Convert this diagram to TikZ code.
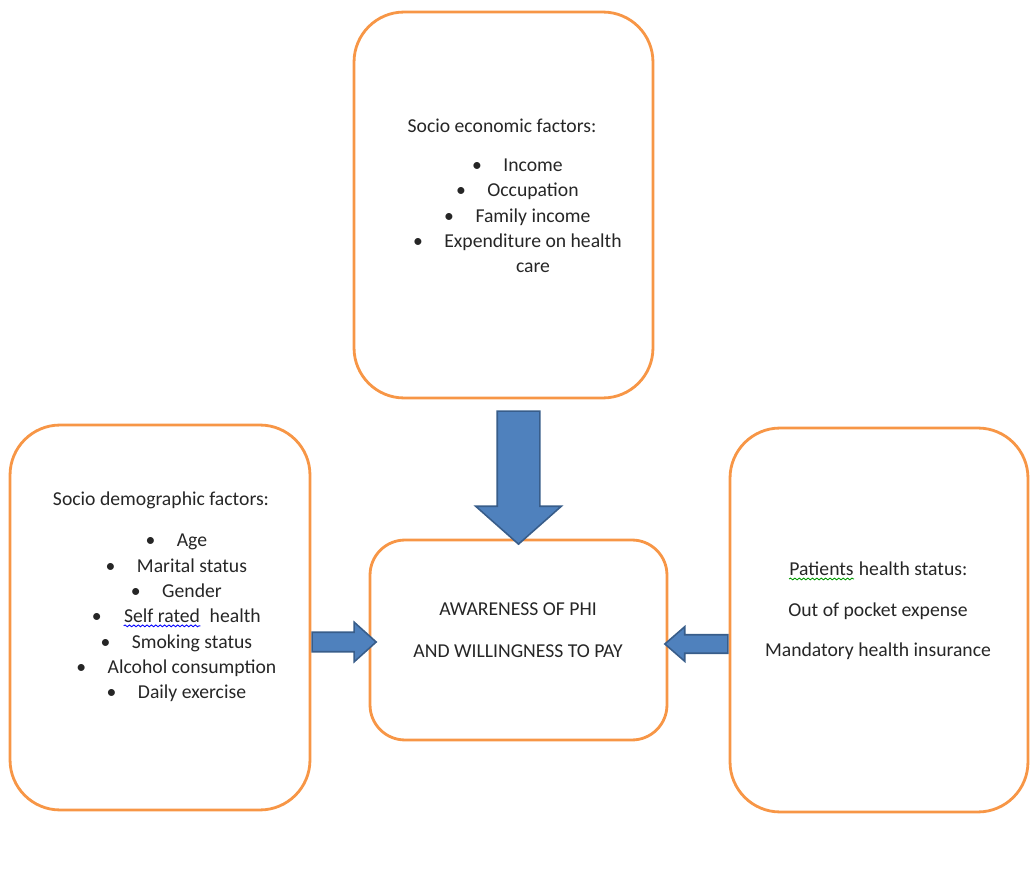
\documentclass[tikz,border=0pt]{standalone}
\usepackage{fontspec}
\setmainfont{Carlito}
\usetikzlibrary{shapes.arrows,decorations.pathmorphing,calc}

\definecolor{boxorange}{HTML}{F79646}
\definecolor{arrowblue}{HTML}{4F81BD}
\definecolor{arrowedge}{HTML}{385D8A}
\definecolor{txtgray}{HTML}{262626}

\newcommand{\itm}[1]{\makebox[0pt][r]{\textbullet\hspace{0.43cm}}#1}
\newcommand{\wavy}[2]{\tikz[baseline=(w.base)]{\node[inner sep=0pt] (w) {#2};
  \draw[#1, line width=.5pt, decorate, decoration={snake, amplitude=.5pt, segment length=2.5pt}]
  ([yshift=-1.5pt]w.south west) -- ([yshift=-1.5pt]w.south east);}}

\begin{document}
\begin{tikzpicture}[x=0.02cm, y=-0.02cm, font=\fontsize{11.2}{14.4}\selectfont, text=txtgray,
  factorbox/.style={draw=boxorange, line width=1.6pt, rounded corners=1cm, inner sep=0pt},
  blockarrow/.style={single arrow, draw=arrowedge, fill=arrowblue, line width=0.9pt, inner xsep=0pt, anchor=tail}]
\useasboundingbox (0,0) rectangle (1031,874);
% boxes
\node[factorbox, minimum width=5.98cm, minimum height=7.72cm] (econ) at (503.5,205) {};
\node[factorbox, minimum width=6cm, minimum height=7.7cm] (demo) at (160,617.5) {};
\node[factorbox, rounded corners=0.7cm, minimum width=5.94cm, minimum height=4cm] (aware) at (518.5,640) {};
\node[factorbox, minimum width=5.96cm, minimum height=7.68cm] (health) at (879,620) {};
% texts
\node (econhead) at (502,126) {Socio economic factors:};
\node[align=center] (econlist) at (533,216) {\itm{Income}\\ \itm{Occupation}\\ \itm{Family income}\\ \itm{Expenditure on health}\\ care};
\node (demohead) at (161,500) {Socio demographic factors:};
\node[align=center] (demolist) at (192,618) {\itm{Age}\\ \itm{Marital status}\\ \itm{Gender}\\ \itm{\wavy{blue}{Self rated}\ \ health}\\ \itm{Smoking status}\\ \itm{Alcohol consumption}\\ \itm{Daily exercise}};
\node[align=center, font=\fontsize{11.2}{23}\selectfont] (healthtxt) at (878,611) {\wavy{green!60!black}{Patients} health status:\\ Out of pocket expense\\ Mandatory health insurance};
\node[align=center, font=\fontsize{11.2}{24}\selectfont] (awaretxt) at (518,630) {AWARENESS OF PHI\\ AND WILLINGNESS TO PAY};
% arrows
\node[blockarrow, rotate=-90, minimum height=2.66cm, inner ysep=0.41cm, single arrow head extend=0.43cm, single arrow tip angle=97] (arrtop) at ($(aware.north |- econ.south)+(0,11)$) {};
\node[blockarrow, minimum height=1.28cm, inner ysep=0.18cm, single arrow head extend=0.2cm, single arrow tip angle=84] (arrleft) at ($(demo.east |- aware.west)+(0,2)$) {};
\node[blockarrow, rotate=180, minimum height=1.26cm, inner ysep=0.17cm, single arrow head extend=0.16cm, single arrow tip angle=82] (arrright) at ($(health.west |- aware.east)+(0,4)$) {};
\end{tikzpicture}
\end{document}
